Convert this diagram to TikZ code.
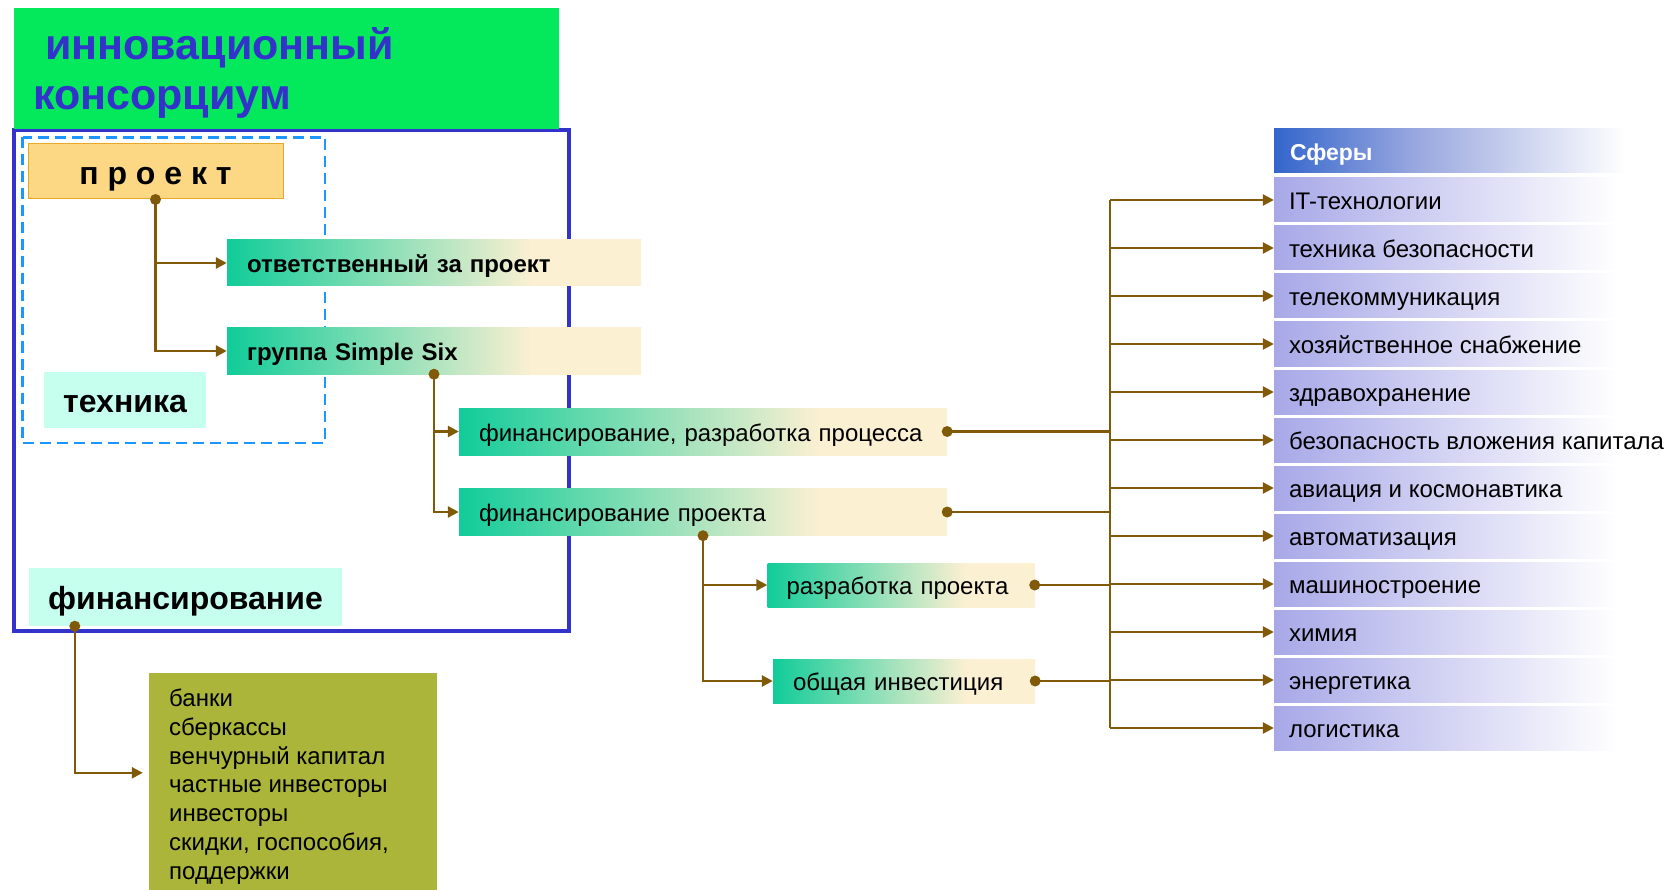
\documentclass[tikz,border=0pt]{standalone}
\usepackage{fontspec}
\setmainfont{Liberation Sans}
\usetikzlibrary{arrows.meta,calc}
\definecolor{consgreen}{RGB}{4,232,92}
\definecolor{titleblue}{RGB}{51,51,204}
\definecolor{frameblue}{RGB}{51,51,204}
\definecolor{dashblue}{RGB}{30,150,255}
\definecolor{proekfill}{RGB}{252,216,133}
\definecolor{proekdraw}{RGB}{232,168,40}
\definecolor{tealc}{RGB}{17,204,153}
\definecolor{creamc}{RGB}{252,240,210}
\definecolor{cyanc}{RGB}{198,255,238}
\definecolor{olivec}{RGB}{170,181,57}
\definecolor{brownc}{RGB}{128,90,8}
\definecolor{lavc}{RGB}{168,168,232}
\definecolor{hdrblue}{RGB}{51,102,204}
\definecolor{hdrmid}{RGB}{150,165,222}
\pgfdeclarehorizontalshading{tealcream}{100bp}{color(0bp)=(tealc); color(25bp)=(tealc); color(62bp)=(creamc); color(100bp)=(creamc)}
\pgfdeclarehorizontalshading{lavwhite}{100bp}{color(0bp)=(lavc); color(25bp)=(lavc); color(68bp)=(white); color(100bp)=(white)}
\pgfdeclarehorizontalshading{hdrshade}{100bp}{color(0bp)=(hdrblue); color(25bp)=(hdrblue); color(42bp)=(hdrmid); color(69bp)=(white); color(100bp)=(white)}
\begin{document}
\begin{tikzpicture}[x=1pt,y=-1pt,
  tealbox/.style={shade, shading=tealcream, draw=none, inner xsep=20pt, inner ysep=0pt, align=left, minimum height=46pt, text height=21pt, text depth=2pt},
  cyanbox/.style={fill=cyanc, draw=none, inner sep=0pt, text height=28pt, text depth=4pt, font=\fontsize{32}{38}\selectfont\bfseries},
  rowbox/.style={shade, shading=lavwhite, draw=none, minimum width=400pt, minimum height=44pt, inner sep=0pt},
  rowtxt/.style={inner sep=0pt, text height=21pt, text depth=2pt, font=\fontsize{24}{28.8}\selectfont, anchor=west},
  normtxt/.style={font=\fontsize{24}{28.8}\selectfont},
  boldtxt/.style={font=\fontsize{24}{28.8}\selectfont\bfseries},
  conn/.style={draw=brownc, line width=2.5pt, -{Triangle[length=11pt,width=11pt]}},
  plainconn/.style={draw=brownc, line width=2.5pt},
  dotc/.style={fill=brownc},
  titletxt/.style={inner sep=0pt, anchor=base west, text=titleblue, font=\fontsize{43}{51}\selectfont\bfseries}
]
\useasboundingbox (0,0) rectangle (1675,890);
% frames
\draw[frameblue, line width=4pt] (14,130) rectangle (569,631);
\draw[dashblue, line width=2.5pt, dash pattern=on 11pt off 6pt] (22.5,137.5) rectangle (325,443);
% title
\node[fill=consgreen, inner sep=0pt, minimum width=545pt, minimum height=121pt] (cons) at (286.5,68.5) {};
\node[titletxt] (t1) at (45,60) {инновационный};
\node[titletxt] (t2) at (33,110) {консорциум};
% project box
\node[fill=proekfill, draw=proekdraw, line width=1pt, minimum width=255pt, minimum height=55pt, inner sep=0pt,
      text height=30pt, text depth=4pt, font=\fontsize{32}{38}\selectfont\bfseries] (proekt) at (155.5,171.5) {п р о е к т};
% teal boxes
\node[tealbox, boldtxt, text width=374pt] (otv) at (434,263) {ответственный за проект};
\node[tealbox, boldtxt, text width=374pt] (grp) at (434,351) {группа Simple Six};
\node[tealbox, normtxt, text width=448pt, minimum height=47pt] (finproc) at (703,431.5) {финансирование, разработка процесса};
\node[tealbox, normtxt, text width=448pt, minimum height=47pt] (finproj) at (703,512) {финансирование проекта};
\node[tealbox, normtxt, text width=229pt, inner xsep=19pt, minimum height=44pt] (razr) at (901,585) {разработка проекта};
\node[tealbox, normtxt, text width=222pt, minimum height=44pt] (obsh) at (904,681) {общая инвестиция};
% cyan boxes
\node[cyanbox, minimum width=162pt, minimum height=56pt] (tech) at (125,400) {техника};
\node[cyanbox, minimum width=313pt, minimum height=58pt] (fin) at (185.5,597) {финансирование};
% banki box
\node[fill=olivec, inner sep=0pt, minimum width=288pt, minimum height=227pt] (banki) at (293,786.5) {};
\node[inner sep=0pt, anchor=north west, align=left, font=\fontsize{24}{28.7}\selectfont] (bankitxt) at (169,689)
  {банки\\сберкассы\\венчурный капитал\\частные инвесторы\\инвесторы\\скидки, госпособия,\\поддержки};
% header and rows
\node[shade, shading=hdrshade, draw=none, minimum width=400pt, minimum height=44pt, inner sep=0pt] (hdr) at (1474,151) {};
\node[rowtxt, text=white, font=\fontsize{23}{28}\selectfont\bfseries] (hdrtxt) at ([xshift=16pt]hdr.west) {Сферы};
\coordinate (bus) at (1110,0);
\foreach \t [count=\i from 0] in {IT-технологии, техника безопасности, телекоммуникация, хозяйственное снабжение, здравохранение, безопасность вложения капитала, авиация и космонавтика, автоматизация, машиностроение, химия, энергетика, логистика} {
  \node[rowbox] (r\i) at (1474,{200+48*\i}) {};
  \node[rowtxt] (rt\i) at ([xshift=15pt]r\i.west) {\t};
}
% connectors
\draw[conn] (proekt.south) |- (otv.west);
\draw[conn] (proekt.south) |- (grp.west);
\fill[dotc] (proekt.south) circle (5.5);
\draw[conn] (grp.south) |- (finproc.west);
\draw[conn] (grp.south) |- (finproj.west);
\fill[dotc] (grp.south) circle (5.5);
\draw[conn] (finproj.south) |- (razr.west);
\draw[conn] (finproj.south) |- (obsh.west);
\fill[dotc] (finproj.south) circle (5.5);
\draw[plainconn] (bus |- r0.west) -- (bus |- r11.west);
\foreach \i in {0,...,11} {\draw[conn] (bus |- r\i.west) -- (r\i.west);}
\foreach \b in {finproc,finproj,razr,obsh} {
  \draw[plainconn] (\b.east) -- (\b.east -| bus);
  \fill[dotc] (\b.east) circle (5.5);
}
\coordinate (findot) at ([xshift=46pt]fin.south west);
\coordinate (bankin) at ($(banki.north west)+(-6,100)$);
\draw[conn] (findot) |- (bankin);
\fill[dotc] (findot) circle (5.5);
\end{tikzpicture}
\end{document}
